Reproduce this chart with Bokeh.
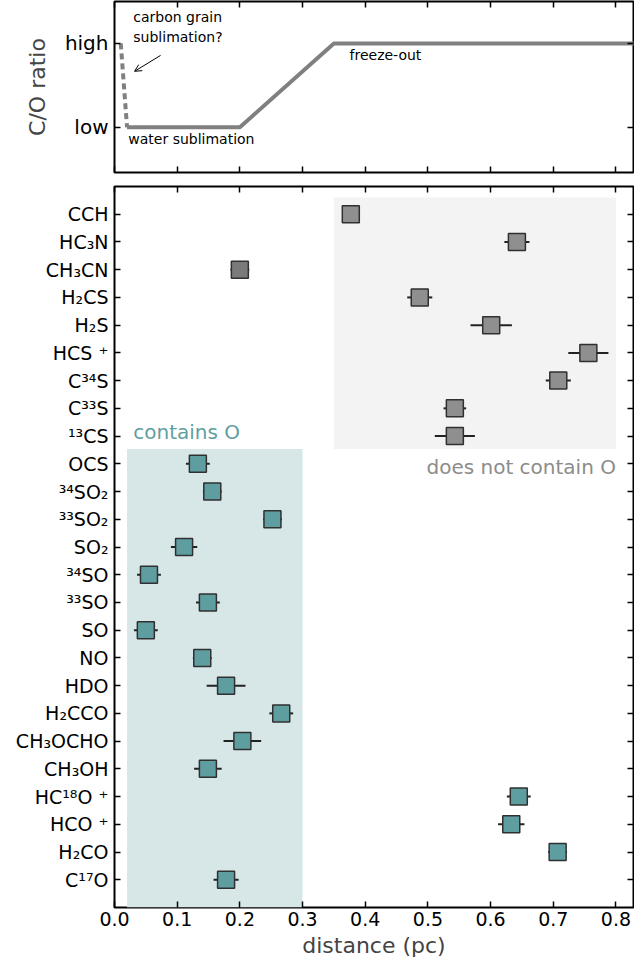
from bokeh.plotting import figure
from bokeh.layouts import column
from bokeh.models import (Range1d, FixedTicker, LinearAxis, PrintfTickFormatter,
                          Arrow, OpenHead, ColumnDataSource)
from bokeh.embed import file_html
from bokeh.resources import INLINE
from bokeh.core.properties import value

FONT = "DejaVu Sans"

# ---------------- data ----------------
molecules = ["CCH", "HC₃N", "CH₃CN", "H₂CS", "H₂S", "HCS ⁺", "C³⁴S", "C³³S", "¹³CS",
             "OCS", "³⁴SO₂", "³³SO₂", "SO₂", "³⁴SO", "³³SO", "SO", "NO", "HDO",
             "H₂CCO", "CH₃OCHO", "CH₃OH", "HC¹⁸O ⁺", "HCO ⁺", "H₂CO", "C¹⁷O"]
distance = [0.377, 0.642, 0.200, 0.487, 0.601, 0.756, 0.708, 0.543, 0.543,
            0.133, 0.156, 0.252, 0.111, 0.055, 0.149, 0.050, 0.140, 0.178,
            0.266, 0.204, 0.149, 0.645, 0.633, 0.707, 0.178]
distance_err = [0.010, 0.020, 0.015, 0.020, 0.033, 0.032, 0.020, 0.018, 0.032,
                0.019, 0.015, 0.015, 0.021, 0.019, 0.019, 0.019, 0.015, 0.031,
                0.019, 0.030, 0.022, 0.019, 0.021, 0.015, 0.020]
contains_O = [False] * 9 + [True] * 16

co_x_solid = [0.02, 0.2, 0.35, 0.83]
co_y_solid = [0, 0, 1, 1]
co_x_dash = [0.01, 0.02]
co_y_dash = [1, 0]
co_ticks = [0, 1]
co_labels = ["low", "high"]
x_ticks = [0.0, 0.1, 0.2, 0.3, 0.4, 0.5, 0.6, 0.7, 0.8]

XMAX = 0.828
TOP_YMIN, TOP_YMAX = -0.54, 1.5


def style_frame(p):
    p.outline_line_color = "black"
    p.outline_line_width = 2
    p.outline_line_alpha = 1
    p.grid.visible = False
    p.background_fill_color = "white"
    p.border_fill_color = "white"


def style_axis(ax, labels=True, size="19px"):
    ax.axis_line_color = None
    ax.major_tick_in = 6
    ax.major_tick_out = 0
    ax.major_tick_line_width = 1.5
    ax.major_tick_line_color = "black"
    ax.minor_tick_line_color = None
    ax.major_label_text_font = FONT
    ax.major_label_text_color = "black"
    if labels:
        ax.major_label_text_font_size = size
    else:
        ax.major_label_text_font_size = "0px"
        ax.major_label_standoff = 0


# ---------------- top panel ----------------
top = figure(width=634, height=179, output_backend="svg", toolbar_location=None,
             x_range=Range1d(0, XMAX), y_range=Range1d(TOP_YMIN, TOP_YMAX),
             min_border_left=114, min_border_right=1, min_border_top=1,
             min_border_bottom=7)
style_frame(top)
top.line(co_x_solid, co_y_solid, line_color="#808080", line_width=4)
top.line(co_x_dash, co_y_dash, line_color="#808080", line_width=4, line_dash="6 4")
top.add_layout(Arrow(end=OpenHead(size=7, line_width=1, line_color="black"),
                     x_start=0.0735, y_start=0.857, x_end=0.032, y_end=0.667,
                     line_width=1, line_color="black"))
for tx, ty, tt in [(0.030, 1.31, "carbon grain"), (0.030, 1.08, "sublimation?"),
                   (0.375, 0.857, "freeze-out"), (0.022, -0.143, "water sublimation")]:
    top.text(x=[tx], y=[ty], text=[tt], text_font=value(FONT),
             text_font_size="14px", text_baseline="middle", text_align="left",
             text_color="black")

top.yaxis.ticker = FixedTicker(ticks=co_ticks)
top.yaxis.major_label_overrides = {t: l for t, l in zip(co_ticks, co_labels)}
top.xaxis.ticker = FixedTicker(ticks=x_ticks)
for ax in top.yaxis:
    style_axis(ax, labels=True, size="20px")
    ax.major_label_standoff = 6
    ax.axis_label = "C/O ratio"
    ax.axis_label_text_font = FONT
    ax.axis_label_text_font_size = "22px"
    ax.axis_label_text_font_style = "normal"
    ax.axis_label_standoff = 12
for ax in top.xaxis:
    style_axis(ax, labels=False)
ta = LinearAxis(ticker=FixedTicker(ticks=x_ticks))
style_axis(ta, labels=False)
top.add_layout(ta, "above")
ra = LinearAxis(ticker=FixedTicker(ticks=co_ticks))
style_axis(ra, labels=False)
top.add_layout(ra, "right")

# ---------------- bottom panel ----------------
n = len(molecules)
ypos = [n - 1 - i for i in range(n)]

bot = figure(width=634, height=785, output_backend="svg", toolbar_location=None,
             x_range=Range1d(0, XMAX), y_range=Range1d(-1, n),
             min_border_left=114, min_border_right=1, min_border_top=7,
             min_border_bottom=57)
style_frame(bot)

# shaded regions
bot.quad(left=[0.35], right=[0.80], bottom=[15.53], top=[24.6],
         fill_color="#f3f3f3", line_color=None)
bot.quad(left=[0.02], right=[0.30], bottom=[-1], top=[15.53],
         fill_color="#d7e7e7", line_color=None)
bot.text(x=[0.030], y=[16.14], text=["contains O"], text_font=value(FONT),
         text_font_size="20px", text_baseline="middle", text_align="left",
         text_color="#5f9ea0")
bot.text(x=[0.80], y=[14.88], text=["does not contain O"], text_font=value(FONT),
         text_font_size="20px", text_baseline="middle", text_align="right",
         text_color="#8c8c8c")

fills = []
for i, m in enumerate(molecules):
    if contains_O[i]:
        fills.append("#5f9ea0")
    elif m == "CH₃CN":
        fills.append("#7a7a7a")
    else:
        fills.append("#8f8f8f")

src = ColumnDataSource(dict(
    x=distance, y=ypos,
    x0=[d - e for d, e in zip(distance, distance_err)],
    x1=[d + e for d, e in zip(distance, distance_err)],
    fill=fills))
bot.segment(x0="x0", x1="x1", y0="y", y1="y", source=src,
            line_color="#222222", line_width=2)
bot.scatter(x="x", y="y", source=src, marker="square", size=17,
            fill_color="fill", line_color="#303030", line_width=1.5)

bot.yaxis.ticker = FixedTicker(ticks=ypos)
bot.yaxis.major_label_overrides = {y: m for y, m in zip(ypos, molecules)}
for ax in bot.yaxis:
    style_axis(ax, labels=True, size="19px")
    ax.major_label_standoff = 6
bot.xaxis.ticker = FixedTicker(ticks=x_ticks)
bot.xaxis.formatter = PrintfTickFormatter(format="%.1f")
for ax in bot.xaxis:
    style_axis(ax, labels=True, size="19px")
    ax.major_label_standoff = 4
    ax.axis_label = "distance (pc)"
    ax.axis_label_text_font = FONT
    ax.axis_label_text_font_size = "22px"
    ax.axis_label_text_font_style = "normal"
    ax.axis_label_standoff = 4
ta2 = LinearAxis(ticker=FixedTicker(ticks=x_ticks))
style_axis(ta2, labels=False)
bot.add_layout(ta2, "above")
ra2 = LinearAxis(ticker=FixedTicker(ticks=ypos))
style_axis(ra2, labels=False)
bot.add_layout(ra2, "right")

layout = column(top, bot, spacing=0)
open("out.html", "w").write(file_html(layout, INLINE))
